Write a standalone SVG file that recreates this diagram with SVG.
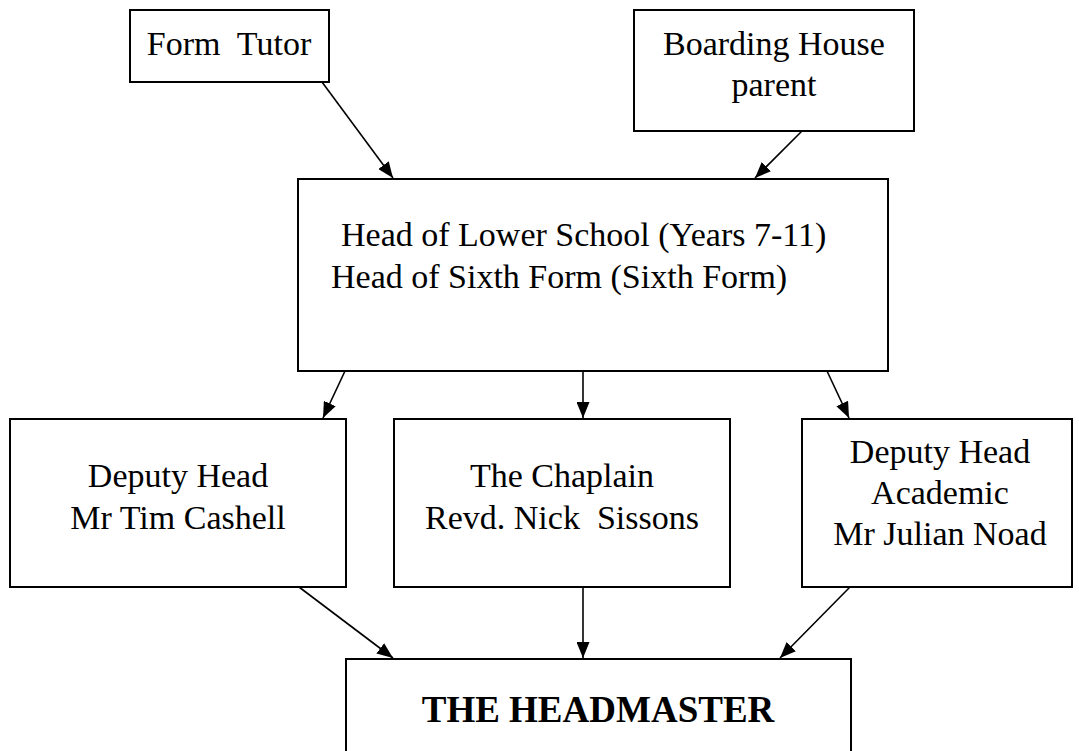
<svg xmlns="http://www.w3.org/2000/svg" width="1079" height="751" viewBox="0 0 1079 751">
<style>
.box{fill:#fff;stroke:#000;stroke-width:2}
.t{font-family:"Liberation Serif","Times New Roman",serif;font-size:34px;fill:#000;text-anchor:middle;white-space:pre}
.s{text-anchor:start}
.b{font-weight:bold;font-size:37px}
.c{stroke:#000;stroke-width:1.6;fill:none;marker-end:url(#ah)}
</style>
<defs>
<marker id="ah" markerWidth="16" markerHeight="13" refX="16" refY="6.5" orient="auto" markerUnits="userSpaceOnUse">
<path d="M0,0 L16,6.5 L0,13 Z" fill="#000"/>
</marker>
</defs>
<rect width="1079" height="751" fill="#fff"/>
<g id="connectors">
<line class="c" x1="322" y1="82" x2="393" y2="178"/>
<line class="c" x1="802" y1="131" x2="755" y2="178"/>
<line class="c" x1="345" y1="371" x2="323" y2="418"/>
<line class="c" x1="583" y1="371" x2="583" y2="418"/>
<line class="c" x1="827" y1="371" x2="849" y2="418"/>
<line class="c" x1="299" y1="587" x2="393" y2="658"/>
<line class="c" x1="583" y1="587" x2="583" y2="658"/>
<line class="c" x1="850" y1="587" x2="780" y2="658"/>
</g>
<g id="form-tutor">
<rect class="box" x="130" y="10" width="199" height="72"/>
<text class="t" x="229" y="55">Form  Tutor</text>
</g>
<g id="boarding-house-parent">
<rect class="box" x="634" y="10" width="280" height="121"/>
<text class="t" x="774" y="55">Boarding House</text>
<text class="t" x="774" y="96">parent</text>
</g>
<g id="head-of-school">
<rect class="box" x="298" y="179" width="590" height="192"/>
<text class="t s" x="341" y="246">Head of Lower School (Years 7-11)</text>
<text class="t s" x="331" y="288">Head of Sixth Form (Sixth Form)</text>
</g>
<g id="deputy-head">
<rect class="box" x="10" y="419" width="336" height="168"/>
<text class="t" x="178" y="487">Deputy Head</text>
<text class="t" x="178" y="529">Mr Tim Cashell</text>
</g>
<g id="chaplain">
<rect class="box" x="394" y="419" width="336" height="168"/>
<text class="t" x="562" y="487">The Chaplain</text>
<text class="t" x="562" y="529">Revd. Nick  Sissons</text>
</g>
<g id="deputy-head-academic">
<rect class="box" x="802" y="419" width="270" height="168"/>
<text class="t" x="940" y="463">Deputy Head</text>
<text class="t" x="940" y="504">Academic</text>
<text class="t" x="940" y="545">Mr Julian Noad</text>
</g>
<g id="headmaster">
<rect class="box" x="346" y="659" width="505" height="100"/>
<text class="t b" x="598" y="722">THE HEADMASTER</text>
</g>
</svg>
